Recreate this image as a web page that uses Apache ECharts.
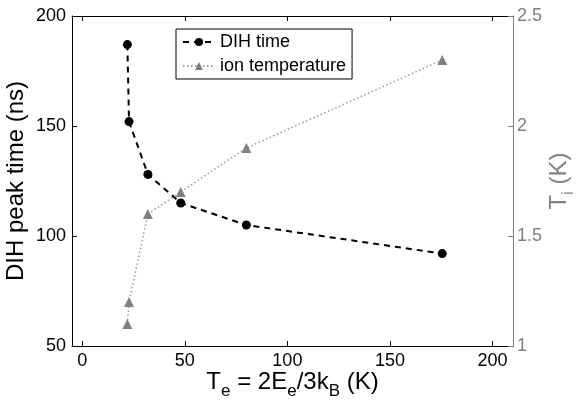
<!DOCTYPE html>
<html><head><meta charset="utf-8">
<script src="https://cdn.jsdelivr.net/npm/echarts@6/dist/echarts.min.js"></script>
<style>html,body{margin:0;padding:0;background:#fff}#c{width:578px;height:404px}</style>
</head><body><div id="c"></div>
<script>
var electronTemp = [22, 22.8, 32, 48, 80, 175.5];
var dihTime = [187, 152, 128, 115, 105, 92];
var ionTemp = [1.1, 1.2, 1.6, 1.7, 1.9, 2.3];
var xTicks = [0, 50, 100, 150, 200];

var FONT = 'Liberation Sans, Arial, Helvetica, sans-serif';
var chart = echarts.init(document.getElementById('c'));
function pairs(xs, ys){ return xs.map(function(x,i){return [x, ys[i]];}); }
var base = {fontFamily: FONT, fontSize: 24, color: '#000', lineHeight: 24, verticalAlign: 'top'};
var sub = {fontFamily: FONT, fontSize: 17, color: '#000', lineHeight: 17, padding: [13,0,0,0], verticalAlign: 'top'};
var gbase = Object.assign({}, base, {color: '#808080'});
var gsub = Object.assign({}, sub, {color: '#808080'});

chart.setOption({
  animation: false,
  grid: {left: 72, right: 65, top: 16, bottom: 58, containLabel: false, outerBoundsMode: 'none'},
  legend: {
    orient: 'vertical', left: 176, top: 29, itemWidth: 32, itemHeight: 10, itemGap: 6,
    padding: [4, 6, 4, 6], borderColor: '#000', borderWidth: 1, backgroundColor: '#fff',
    textStyle: {fontFamily: FONT, fontSize: 18, color: '#000'},
    data: ['DIH time', 'ion temperature']
  },
  xAxis: [{
    type: 'value', min: -5, max: 210, position: 'bottom',
    axisLine: {onZero: false, lineStyle: {color: '#000', width: 1}},
    axisTick: {inside: true, length: 5, customValues: xTicks, lineStyle: {color: '#000'}},
    axisLabel: {customValues: xTicks, fontFamily: FONT, fontSize: 18, color: '#000', margin: 6},
    splitLine: {show: false},
    name: '{a|T}{s|e}{a| = 2E}{s|e}{a|/3k}{s|B}{a| (K)}',
    nameLocation: 'middle', nameGap: 24, nameMoveOverlap: false,
    nameTextStyle: {rich: {a: base, s: sub}}
  }, {
    type: 'value', min: -5, max: 210, position: 'top',
    axisLine: {show: true, onZero: false, lineStyle: {color: '#000', width: 1}},
    axisTick: {show: true, inside: true, length: 5, customValues: xTicks, lineStyle: {color: '#000'}},
    axisLabel: {show: true, customValues: xTicks, formatter: function(){return '';}},
    splitLine: {show: false}
  }],
  yAxis: [{
    type: 'value', min: 50, max: 200, interval: 50, position: 'left',
    axisLine: {show: true, onZero: false, lineStyle: {color: '#000', width: 1}},
    axisTick: {show: true, inside: true, length: 5, lineStyle: {color: '#000'}},
    axisLabel: {fontFamily: FONT, fontSize: 18, color: '#000', margin: 6},
    splitLine: {show: false},
    name: 'DIH peak time (ns)', nameLocation: 'middle', nameGap: 44, nameMoveOverlap: false,
    nameTextStyle: {fontFamily: FONT, fontSize: 24, color: '#000'}
  }, {
    type: 'value', min: 1, max: 2.5, interval: 0.5, position: 'right',
    axisLine: {show: true, onZero: false, lineStyle: {color: '#808080', width: 1}},
    axisTick: {show: true, inside: true, length: 5, lineStyle: {color: '#808080'}},
    axisLabel: {fontFamily: FONT, fontSize: 18, color: '#808080', margin: 4},
    splitLine: {show: false},
    name: '{a|T}{s|i}{a| (K)}', nameLocation: 'middle', nameGap: 34, nameRotate: 90, nameMoveOverlap: false,
    nameTextStyle: {rich: {a: gbase, s: gsub}}
  }],
  series: [{
    name: 'DIH time', type: 'line', xAxisIndex: 0, yAxisIndex: 0,
    data: pairs(electronTemp, dihTime),
    symbol: 'circle', symbolSize: 9, showSymbol: true,
    lineStyle: {color: '#000', width: 2, type: [6, 5]},
    itemStyle: {color: '#000'}
  }, {
    name: 'ion temperature', type: 'line', xAxisIndex: 0, yAxisIndex: 1,
    data: pairs(electronTemp, ionTemp),
    symbol: 'triangle', symbolSize: 10, showSymbol: true,
    lineStyle: {color: '#999', width: 1.5, type: [1.5, 2.5]},
    itemStyle: {color: '#808080'}
  }]
});
</script></body></html>
